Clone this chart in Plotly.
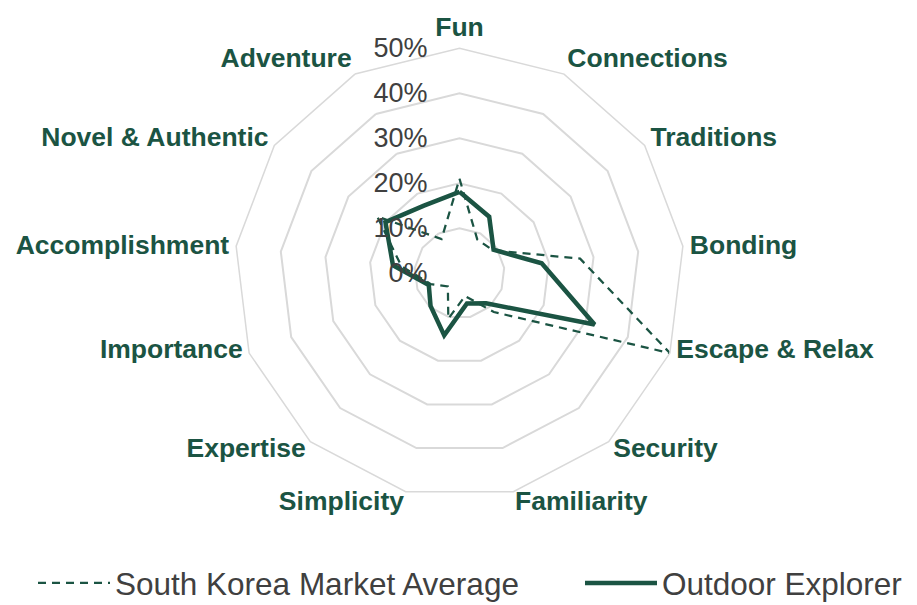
import plotly.graph_objects as go

categories = ["Fun", "Connections", "Traditions", "Bonding", "Escape & Relax",
              "Security", "Familiarity", "Simplicity", "Expertise", "Importance",
              "Accomplishment", "Novel & Authentic", "Adventure"]
market_avg = [0.21, 0.085, 0.09, 0.27, 0.50, 0.115, 0.052, 0.104, 0.039, 0.068, 0.13, 0.222, 0.086]
outdoor_explorer = [0.181, 0.142, 0.092, 0.184, 0.321, 0.089, 0.069, 0.142, 0.097, 0.073, 0.149, 0.20, 0.17]
radial_ticks = [0, 0.1, 0.2, 0.3, 0.4, 0.5]
# lower labels sit closer to the outline, so they go on a second (label-only) angular axis
lower_cats = ["Escape & Relax", "Security", "Familiarity", "Simplicity", "Expertise", "Importance"]
upper_text = ["" if c in lower_cats else c for c in categories]
lower_text = [c if c in lower_cats else "" for c in categories]

GREEN = "#1b5443"
GRID = "#d9d9d9"
W, H = 917, 605

def closed(vals):
    return vals + vals[:1]

fig = go.Figure()
fig.add_trace(go.Scatterpolar(
    r=closed(market_avg), theta=closed(categories), mode="lines",
    name="South Korea Market Average", legend="legend",
    line=dict(color=GREEN, width=2.25, dash="8px,6px")))
fig.add_trace(go.Scatterpolar(
    r=closed(outdoor_explorer), theta=closed(categories), mode="lines",
    name="Outdoor Explorer", legend="legend2",
    line=dict(color=GREEN, width=4.5)))
fig.add_trace(go.Scatterpolar(
    r=[None] * len(categories), theta=categories, mode="lines", subplot="polar2",
    showlegend=False, hoverinfo="skip"))

legend_style = dict(orientation="h", xanchor="left", y=3 / H, yanchor="bottom",
                    font=dict(size=31.5, color="#404040"), itemwidth=72,
                    bgcolor="rgba(0,0,0,0)")

label_font = dict(size=26.5, color=GREEN, weight="bold")

fig.update_layout(
    template="plotly_white",
    width=W, height=H,
    margin=dict(l=0, r=0, t=0, b=0, autoexpand=False),
    paper_bgcolor="white",
    font=dict(family="Liberation Sans, Arial", color="#404040"),
    polar=dict(
        # page body has an 8px margin, so the square sits 8px up/left of where it shows
        domain=dict(x=[226.5 / W, 676.5 / W], y=[114.7 / H, 564.7 / H]),
        bgcolor="white",
        gridshape="linear",
        radialaxis=dict(range=[0, 0.5], tickvals=radial_ticks, tickformat=".0%",
                        angle=90, tickangle=90, side="counterclockwise",
                        showline=False, gridcolor=GRID, gridwidth=1.5,
                        ticks="outside", ticklen=22, tickcolor="rgba(0,0,0,0)",
                        tickfont=dict(size=27, color="#404040")),
        angularaxis=dict(direction="clockwise", rotation=90,
                         showgrid=False, showline=True, linecolor=GRID, linewidth=1.5,
                         ticks="outside", ticklen=1, tickcolor="rgba(0,0,0,0)",
                         tickmode="array", tickvals=categories, ticktext=upper_text,
                         tickfont=label_font,
                         categoryorder="array", categoryarray=categories),
    ),
    polar2=dict(
        domain=dict(x=[226.5 / W, 676.5 / W], y=[130.7 / H, 580.7 / H]),
        bgcolor="rgba(0,0,0,0)",
        gridshape="linear",
        radialaxis=dict(range=[0, 0.5], visible=False),
        angularaxis=dict(direction="clockwise", rotation=90,
                         showgrid=False, showline=False,
                         ticks="outside", ticklen=1, tickcolor="rgba(0,0,0,0)",
                         tickmode="array", tickvals=categories, ticktext=lower_text,
                         tickfont=label_font,
                         categoryorder="array", categoryarray=categories),
    ),
    showlegend=True,
    legend=dict(x=25 / W, **legend_style),
    legend2=dict(x=572 / W, **legend_style),
)

fig.write_html("out.html")
